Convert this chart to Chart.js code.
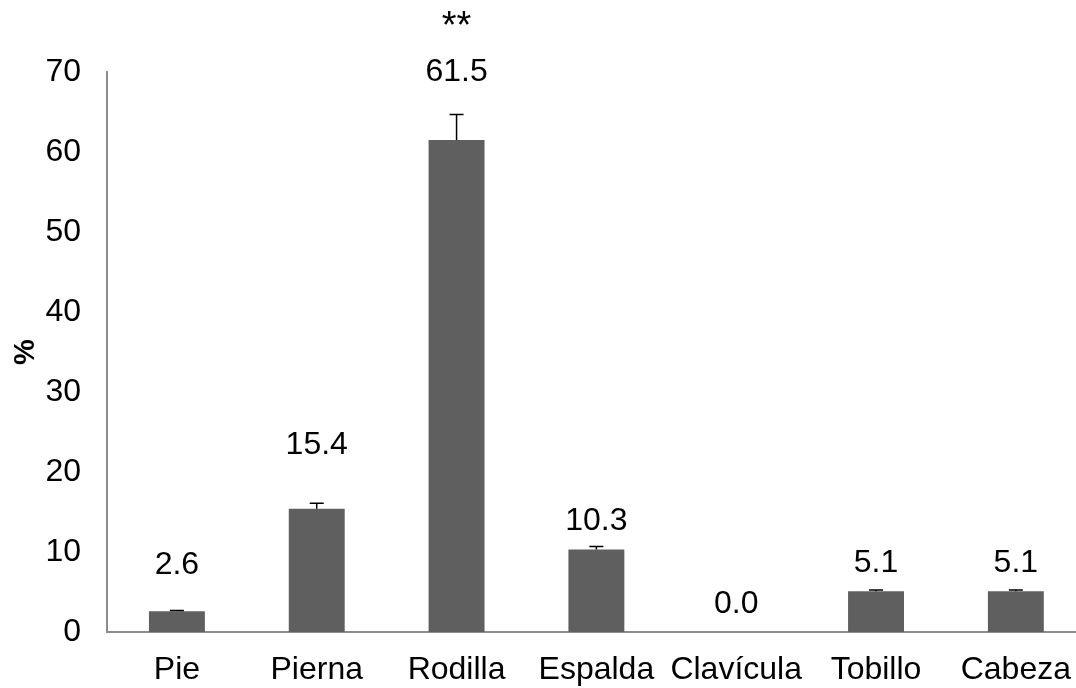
<!DOCTYPE html>
<html lang="es">
<head>
  <meta charset="UTF-8">
  <title>Lesiones</title>
  <script src="https://cdn.jsdelivr.net/npm/chart.js"></script>
  <style>
    body { margin: 0; background: #fff; overflow: hidden; }
    #wrap { width: 1090px; height: 688px; }
  </style>
</head>
<body>
  <div id="wrap"><canvas id="grafico"></canvas></div>
  <script>
    const categorias = ['Pie', 'Pierna', 'Rodilla', 'Espalda', 'Clavícula', 'Tobillo', 'Cabeza'];
    const porcentajes = [2.6, 15.4, 61.5, 10.3, 0.0, 5.1, 5.1];
    const errores = [0.1, 0.7, 3.2, 0.4, 0, 0.15, 0.15];
    const marcas = ['', '', '**', '', '', '', ''];
    const ticksY = [0, 10, 20, 30, 40, 50, 60, 70];

    // distancia en px de la etiqueta al borde superior de la barra
    const desplazamiento = [46, 64, 68, 28, 28, 28, 28];

    const fuente = '"Liberation Sans", Arial, sans-serif';

    const barrasError = {
      id: 'barrasError',
      afterDatasetsDraw(chart) {
        const ctx = chart.ctx;
        const y = chart.scales.y;
        chart.getDatasetMeta(0).data.forEach((bar, i) => {
          if (!errores[i]) return;
          const top = y.getPixelForValue(porcentajes[i] + errores[i]);
          ctx.save();
          ctx.strokeStyle = '#000';
          ctx.lineWidth = 1.5;
          ctx.beginPath();
          ctx.moveTo(bar.x, bar.y);
          ctx.lineTo(bar.x, top);
          ctx.moveTo(bar.x - 7, top);
          ctx.lineTo(bar.x + 7, top);
          ctx.stroke();
          ctx.restore();
        });
      }
    };

    const etiquetas = {
      id: 'etiquetas',
      afterDatasetsDraw(chart) {
        const ctx = chart.ctx;
        ctx.save();
        ctx.fillStyle = '#000';
        ctx.textAlign = 'center';
        ctx.textBaseline = 'middle';
        chart.getDatasetMeta(0).data.forEach((bar, i) => {
          const yl = bar.y - desplazamiento[i];
          ctx.font = '32px ' + fuente;
          ctx.fillText(porcentajes[i].toFixed(1), bar.x, yl);
          if (marcas[i]) {
            ctx.font = '38px ' + fuente;
            ctx.fillText(marcas[i], bar.x, yl - 44);
          }
        });
        ctx.restore();
      }
    };

    new Chart(document.getElementById('grafico'), {
      type: 'bar',
      data: {
        labels: categorias,
        datasets: [{
          data: porcentajes,
          backgroundColor: '#5f5f5f',
          borderWidth: 0,
          barPercentage: 0.4,
          categoryPercentage: 1
        }]
      },
      options: {
        responsive: true,
        maintainAspectRatio: false,
        animation: false,
        layout: { padding: { top: 72, right: 0, bottom: 0, left: 9 } },
        plugins: { legend: { display: false }, tooltip: { enabled: false } },
        scales: {
          x: {
            grid: { display: false, drawTicks: false },
            border: { color: '#8c8c8c', width: 2 },
            ticks: { color: '#000', font: { family: fuente, size: 32 }, padding: 19, maxRotation: 0, autoSkip: false },
            afterFit(scale) { scale.height = 56; }
          },
          y: {
            min: 0, max: 70,
            afterBuildTicks(scale) { scale.ticks = ticksY.map(v => ({ value: v })); },
            grid: { display: false, drawTicks: false },
            border: { color: '#8c8c8c', width: 2 },
            ticks: { color: '#000', font: { family: fuente, size: 32 }, padding: 26 },
            title: { display: true, text: '%', color: '#000', font: { family: fuente, size: 29, weight: 'bold' }, padding: 0 },
            afterFit(scale) { scale.width = 98; }
          }
        }
      },
      plugins: [barrasError, etiquetas]
    });
  </script>
</body>
</html>
